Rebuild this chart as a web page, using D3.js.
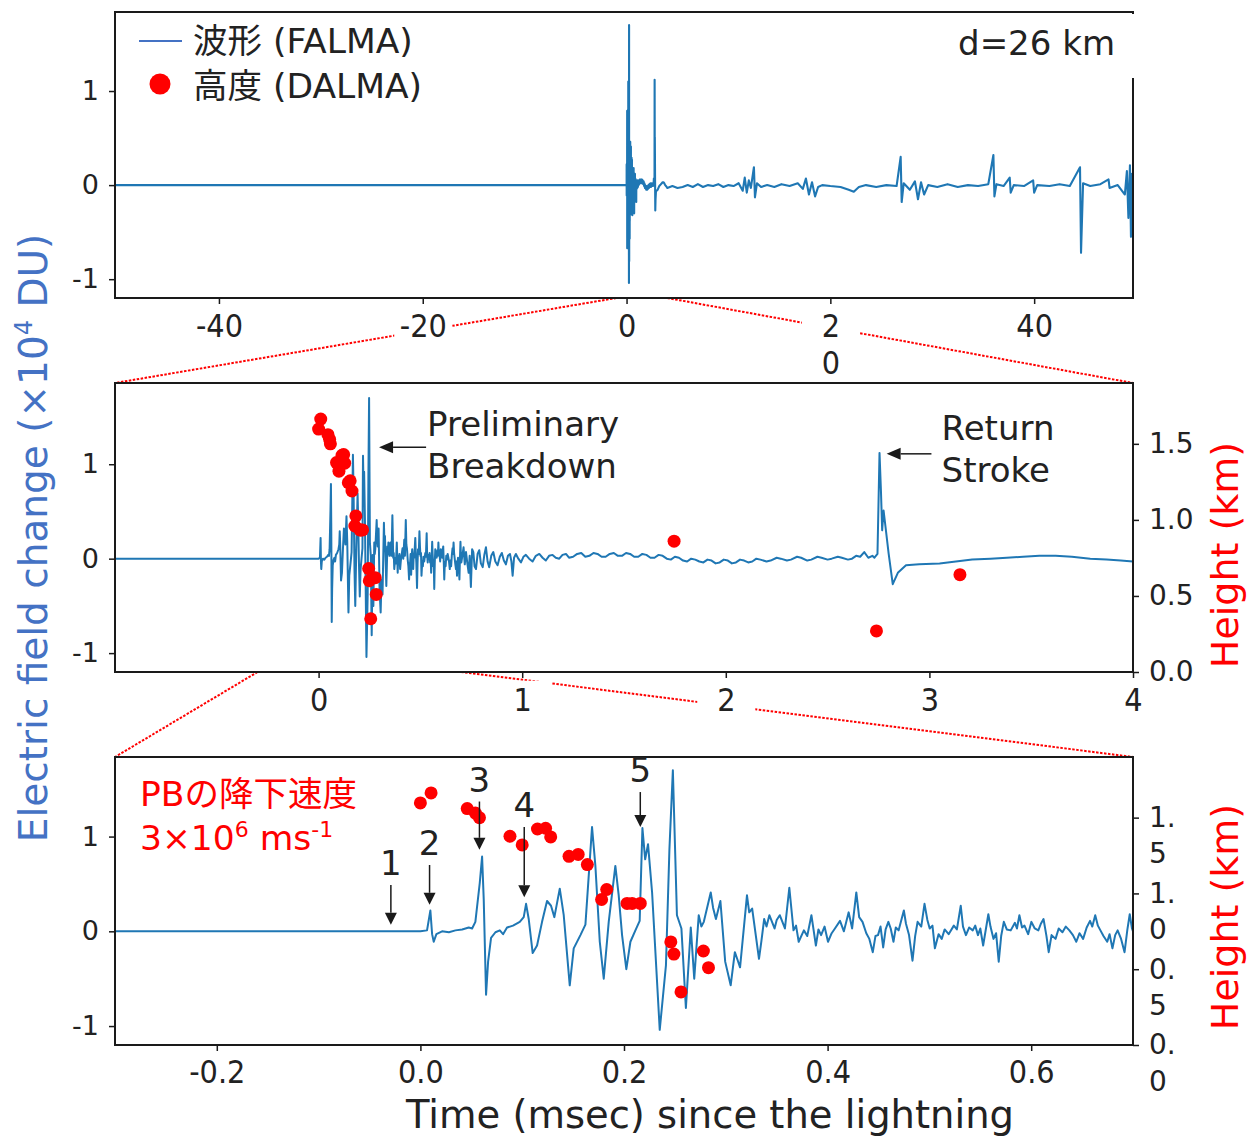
<!DOCTYPE html>
<html lang="ja">
<head>
<meta charset="utf-8">
<title>Electric field change and DALMA source heights</title>
<script src="https://cdn.jsdelivr.net/npm/d3@7/dist/d3.min.js"></script>
<style>
  html, body { margin: 0; padding: 0; background: #fff; }
  svg { display: block; }
</style>
</head>
<body>
<svg id="chart" width="1250" height="1138"></svg>
<script>
// FALMA waveform: [time (ms), field change (x1e4 DU)]
const fieldTrace = [
  [-50.2, 0.00], [-40, 0.00], [-30, 0.00], [-20, 0.00], [-10, 0.00], [-0.3, 0.00],
  [-0.200, 0.00], [-0.100, 0.00], [-0.030, 0.00], [0.000, 0.00], [0.0065, 0.01],
  [0.0098, 0.22], [0.0115, -0.03], [0.0131, -0.11], [0.0157, -0.03], [0.0213, 0.00],
  [0.0280, -0.01], [0.0344, 0.01], [0.0410, 0.02], [0.0475, 0.04], [0.0508, 0.03],
  [0.0540, 0.10], [0.0583, 0.51], [0.0606, 0.79], [0.0622, 0.34], [0.0645, -0.67],
  [0.0665, -0.32], [0.0694, -0.07], [0.0737, -0.01], [0.0780, 0.01], [0.0812, -0.03],
  [0.0851, 0.04], [0.0910, 0.06], [0.0976, 0.10], [0.1015, 0.15], [0.1038, 0.29],
  [0.1064, 0.13], [0.1103, -0.23], [0.1146, -0.15], [0.1195, 0.10], [0.1244, 0.32],
  [0.1283, 0.27], [0.1316, 0.15], [0.1369, 0.45], [0.1408, 0.17], [0.1467, -0.57],
  [0.1506, -0.18], [0.1572, -0.04], [0.1621, 0.07], [0.1686, 1.10], [0.1719, 0.69],
  [0.1762, -0.11], [0.1801, -0.50], [0.1850, 0.10], [0.1915, 0.69], [0.1948, 0.38],
  [0.1981, -0.04], [0.2023, -0.40], [0.2063, -0.11], [0.2112, 0.01], [0.2154, 0.11],
  [0.2181, 1.09], [0.2208, 0.76], [0.2236, 0.92], [0.2276, 0.41], [0.2351, -1.04],
  [0.2412, -0.36], [0.2446, 0.86], [0.2480, 1.70], [0.2520, 0.17], [0.2564, 0.03],
  [0.2608, -0.81], [0.2656, 0.04], [0.2690, -0.50], [0.2734, 0.17], [0.2760, 0.05],
  [0.2784, 0.10], [0.2852, 0.41], [0.2875, 0.25], [0.2903, 0.13], [0.2947, 0.32],
  [0.2994, -0.32], [0.3048, -0.57], [0.3089, -0.22], [0.3115, -0.30], [0.3140, -0.38],
  [0.3208, 0.38], [0.3230, 0.20], [0.3259, 0.24], [0.3326, -0.29], [0.3350, -0.10],
  [0.3377, 0.13], [0.3400, 0.05], [0.3428, 0.17], [0.3479, 0.03], [0.3500, 0.12],
  [0.3530, 0.17], [0.3581, 0.03], [0.3624, 0.46], [0.3665, 0.01], [0.3690, 0.06],
  [0.3716, -0.11], [0.3767, 0.01], [0.3800, -0.05], [0.3841, 0.17], [0.3885, -0.15],
  [0.3910, 0.02], [0.3936, -0.04], [0.3970, 0.05], [0.4004, -0.11], [0.4040, -0.02],
  [0.4072, 0.03], [0.4122, 0.11], [0.4160, 0.00], [0.4207, 0.20], [0.4241, 0.03],
  [0.4282, 0.41], [0.4310, 0.15], [0.4343, 0.10], [0.4380, -0.02], [0.4410, -0.08],
  [0.4444, -0.22], [0.4470, -0.05], [0.4495, -0.04], [0.4520, 0.05], [0.4546, -0.17],
  [0.4570, 0.02], [0.4597, 0.10], [0.4620, 0.03], [0.4647, -0.11], [0.4670, 0.04],
  [0.4698, 0.01], [0.4749, 0.22], [0.4770, 0.08], [0.4800, -0.04], [0.4834, -0.31],
  [0.4860, -0.05], [0.4884, 0.10], [0.4920, 0.05], [0.4952, 0.29], [0.4980, 0.12],
  [0.5003, 0.03], [0.5030, 0.06], [0.5054, -0.18], [0.5090, -0.03], [0.5121, -0.08],
  [0.5150, 0.02], [0.5189, -0.03], [0.5240, 0.06], [0.5270, 0.02], [0.5308, 0.27],
  [0.5330, 0.05], [0.5359, -0.04], [0.5390, 0.04], [0.5426, 0.01], [0.5450, 0.06],
  [0.5477, -0.04], [0.5500, 0.03], [0.5528, -0.15], [0.5579, 0.18], [0.5600, 0.05],
  [0.5630, -0.08], [0.5655, -0.02], [0.5681, -0.32], [0.5705, -0.05], [0.5731, 0.10],
  [0.5760, 0.02], [0.5799, 0.01], [0.5840, 0.09], [0.5860, 0.03], [0.5884, 0.17],
  [0.5910, 0.04], [0.5934, 0.06], [0.5970, -0.03], [0.6002, 0.10], [0.6035, 0.03],
  [0.6070, 0.01], [0.6095, 0.08], [0.6121, 0.13], [0.6150, -0.05], [0.6172, -0.22],
  [0.6200, -0.04], [0.6239, -0.08], [0.6270, 0.03], [0.6307, -0.01], [0.6340, 0.05],
  [0.6375, 0.01], [0.6410, -0.04], [0.6443, -0.11], [0.6475, -0.02], [0.6510, -0.08],
  [0.6545, 0.04], [0.6578, 0.11], [0.6600, 0.05], [0.6629, 0.17], [0.6655, 0.06],
  [0.6680, 0.01], [0.6710, -0.05], [0.6747, -0.11], [0.6770, -0.03], [0.6798, -0.18],
  [0.6825, -0.04], [0.6849, 0.01], [0.6883, -0.08], [0.6917, -0.22], [0.6945, 0.02],
  [0.6968, 0.18], [0.6990, 0.03], [0.7012, -0.04],
  [0.712, 0.12], [0.718, -0.06],
  [0.724, 0.07], [0.730, -0.04], [0.737, -0.15], [0.742, 0.03], [0.748, -0.30], [0.754, 0.10],
  [0.760, 0.07], [0.766, -0.08], [0.773, -0.11], [0.781, 0.05], [0.789, 0.09], [0.797, -0.05],
  [0.806, -0.09], [0.814, 0.04], [0.822, 0.12], [0.830, -0.03], [0.838, -0.09], [0.848, 0.03],
  [0.858, 0.07], [0.868, -0.03], [0.879, -0.07], [0.890, 0.02], [0.900, 0.06], [0.910, -0.02],
  [0.920, -0.06], [0.930, 0.03], [0.940, 0.05], [0.947, -0.03], [0.953, -0.18], [0.960, 0.01],
  [0.969, 0.05], [0.981, 0.00], [0.994, -0.04], [1.006, 0.02], [1.018, 0.04], [1.034, 0.00],
  [1.051, -0.03], [1.067, 0.03], [1.084, 0.05], [1.100, 0.01], [1.116, -0.02], [1.132, 0.03],
  [1.149, 0.04], [1.165, 0.01], [1.182, 0.00], [1.198, 0.04], [1.215, 0.05], [1.23, 0.01],
  [1.25, 0.02], [1.27, 0.05], [1.29, 0.06], [1.31, 0.02], [1.33, 0.03], [1.35, 0.06],
  [1.37, 0.05], [1.39, 0.02], [1.41, 0.02], [1.43, 0.05], [1.45, 0.06], [1.47, 0.03],
  [1.49, 0.03], [1.51, 0.06], [1.53, 0.05], [1.55, 0.02], [1.57, 0.02], [1.59, 0.05],
  [1.61, 0.04], [1.63, 0.01], [1.65, 0.01], [1.67, 0.04], [1.69, 0.03], [1.71, 0.00],
  [1.73, -0.01], [1.75, 0.02], [1.77, 0.01], [1.79, -0.02], [1.81, -0.03], [1.83, 0.00],
  [1.85, -0.01], [1.87, -0.03], [1.89, -0.04], [1.91, -0.01], [1.93, -0.02], [1.95, -0.05],
  [1.97, -0.04], [1.99, -0.01], [2.01, -0.02], [2.03, -0.05], [2.05, -0.04], [2.07, -0.01],
  [2.09, -0.02], [2.11, -0.04], [2.13, -0.03], [2.15, 0.00], [2.17, -0.01], [2.20, -0.03],
  [2.22, -0.02], [2.25, 0.01], [2.27, 0.00], [2.30, -0.02], [2.32, -0.01], [2.35, 0.02],
  [2.37, 0.01], [2.40, -0.02], [2.42, -0.01], [2.45, 0.02], [2.47, 0.01], [2.50, -0.01],
  [2.52, 0.00], [2.55, 0.02], [2.57, 0.01], [2.60, -0.01], [2.62, 0.00], [2.64, 0.03],
  [2.66, 0.02], [2.68, 0.07], [2.70, 0.01], [2.72, 0.03], [2.73, 0.01],
  [2.745, 0.05], [2.755, 1.12], [2.762, 0.72], [2.768, 0.30], [2.775, 0.51], [2.80, 0.05],
  [2.82, -0.27], [2.845, -0.15], [2.885, -0.07], [2.95, -0.06], [3.05, -0.05], [3.13, -0.03],
  [3.21, -0.01], [3.30, 0.00], [3.38, 0.01], [3.46, 0.02], [3.54, 0.03], [3.62, 0.03],
  [3.70, 0.02], [3.79, 0.00], [3.87, -0.01], [3.94, -0.02], [4.00, -0.03],
  [4.5, -0.01], [5.0, -0.03], [5.5, -0.02], [6.0, 0.00], [6.5, -0.02], [7.0, 0.01],
  [7.5, -0.02], [8.0, 0.00], [8.5, -0.01], [9.0, 0.01], [9.5, -0.02], [10.0, 0.00],
  [10.5, -0.01], [11.0, 0.02], [11.4, -0.06], [11.6, 0.08], [11.8, -0.08], [12.0, 0.05],
  [12.2, -0.03], [12.5, 0.19], [12.6, -0.13], [12.8, 0.02], [13.2, -0.02], [13.8, 0.00],
  [14.5, -0.02], [15.2, 0.01], [16.0, -0.01], [16.8, 0.02], [17.3, -0.04], [17.6, 0.07],
  [17.9, -0.10], [18.2, 0.03], [18.5, -0.12], [18.8, -0.02], [19.2, 0.00], [20.0, -0.01],
  [21.0, -0.02], [21.8, -0.05], [22.3, -0.07], [22.8, -0.02], [23.5, 0.00], [24.5, -0.02],
  [25.5, 0.00], [26.5, -0.01], [26.9, 0.30], [27.0, -0.18], [27.2, 0.02], [27.8, -0.05],
  [28.3, 0.04], [28.6, -0.15], [28.9, 0.03], [29.2, -0.10], [29.6, 0.00], [30.5, -0.02],
  [31.5, 0.01], [32.5, -0.02], [33.5, 0.00], [34.5, -0.01], [35.5, 0.01], [36.0, 0.32],
  [36.1, -0.12], [36.3, 0.01], [37.0, -0.01], [37.6, 0.08], [37.7, -0.08], [38.0, 0.00],
  [39.0, -0.01], [39.9, 0.05], [40.0, -0.08], [40.3, 0.00], [41.5, -0.01], [42.5, 0.01],
  [43.5, -0.01], [44.5, 0.19], [44.6, -0.72], [44.8, 0.02], [45.5, -0.01], [46.5, 0.01],
  [47.3, 0.06], [47.4, -0.03], [48.2, 0.00], [48.9, -0.10], [49.1, 0.15], [49.25, -0.35],
  [49.4, 0.21], [49.5, -0.55], [49.6, 0.12], [49.7, -0.20]
];

// DALMA radiation sources: time (ms) and height (km)
const dalmaTimes = [0.000, 0.0105, 0.046, 0.054, 0.058, 0.088, 0.100, 0.115, 0.123, 0.128,
  0.146, 0.155, 0.164, 0.178, 0.183, 0.203, 0.208, 0.216, 0.246, 0.249, 0.256, 0.278, 0.283,
  1.746, 2.740, 3.150];
const dalmaHeights = [1.597, 1.663, 1.560, 1.530, 1.500, 1.377, 1.320, 1.425, 1.430, 1.373,
  1.245, 1.257, 1.190, 0.960, 1.026, 0.934, 0.934, 0.934, 0.680, 0.600, 0.350, 0.620, 0.510,
  0.860, 0.270, 0.640];

// Axis ticks and their printed labels
const topXTicks = [-40, -20, 0, 20, 40];
const topXLabels = ["-40", "-20", "0", "2\n0", "40"];
const fieldTicks = [-1, 0, 1];
const fieldLabels = ["-1", "0", "1"];
const midXTicks = [0, 1, 2, 3, 4];
const midXLabels = ["0", "1", "2", "3", "4"];
const botXTicks = [-0.2, 0, 0.2, 0.4, 0.6];
const botXLabels = ["-0.2", "0.0", "0.2", "0.4", "0.6"];
const heightTicks = [0, 0.5, 1.0, 1.5];
const midHeightLabels = ["0.0", "0.5", "1.0", "1.5"];
const botHeightLabels = ["0.\n0", "0.\n5", "1.\n0", "1.\n5"];

// Preliminary-breakdown pulses marked in the lower panel (time in ms, arrow span in field units)
const stepLabels = ["1", "2", "3", "4", "5"];
const stepTimes = [-0.029, 0.009, 0.058, 0.102, 0.216];
const stepTips = [0.07, 0.28, 0.86, 0.36, 1.10];
const stepTails = [0.49, 0.70, 1.37, 1.10, 1.47];

// ---------------------------------------------------------------
const svg = d3.select("#chart");
const X0 = 115, X1 = 1133;
const LATIN = "'DejaVu Sans', 'Noto Sans CJK JP', sans-serif";
const NARROW = "'DejaVu Sans Condensed', 'DejaVu Sans', sans-serif";
const WAVE = "#1f77b4", DOT = "#ff0000", INK = "#1a1a1a", TITLE_BLUE = "#4472c4";

const panelTop = { id: "top", xDomain: [-50.2, 49.7], yDomain: [-1.2, 1.84], top: 12, bottom: 298, lw: 2.1 };
const panelMid = { id: "mid", xDomain: [-1, 4], yDomain: [-1.2, 1.86], hDomain: [0, 1.9], top: 383, bottom: 672, lw: 2 };
const panelBot = { id: "bot", xDomain: [-0.3, 0.7], yDomain: [-1.2, 1.84], hDomain: [0, 1.9], top: 757, bottom: 1045, lw: 2 };
const panels = [panelTop, panelMid, panelBot];

panels.forEach(p => {
  p.x = d3.scaleLinear().domain(p.xDomain).range([X0, X1]);
  p.y = d3.scaleLinear().domain(p.yDomain).range([p.bottom, p.top]);
  if (p.hDomain) p.h = d3.scaleLinear().domain(p.hDomain).range([p.bottom, p.top]);
});

const sources = dalmaTimes.map((t, i) => [t, dalmaHeights[i]]);

// Zoom connectors between panels (drawn first so tick labels sit on top)
const connectors = [
  [panelTop.x(panelMid.xDomain[0]), panelTop.bottom, X0, panelMid.top],
  [panelTop.x(panelMid.xDomain[1]), panelTop.bottom, X1, panelMid.top],
  [panelMid.x(panelBot.xDomain[0]), panelMid.bottom, X0, panelBot.top],
  [panelMid.x(panelBot.xDomain[1]), panelMid.bottom, X1, panelBot.top]
];
svg.append("g").attr("class", "connectors")
  .selectAll("line").data(connectors).join("line")
  .attr("x1", d => d[0]).attr("y1", d => d[1])
  .attr("x2", d => d[2]).attr("y2", d => d[3])
  .attr("stroke", DOT).attr("stroke-width", 2)
  .attr("stroke-dasharray", "2.5,1.5");

function splitLines(sel, lineHeight) {
  sel.each(function () {
    const t = d3.select(this);
    const parts = t.text().split("\n");
    if (parts.length < 2) return;
    const x = t.attr("x") || 0;
    t.text(null);
    parts.forEach((s, i) => {
      t.append("tspan").attr("x", x).attr("dy", i === 0 ? null : lineHeight).text(s);
    });
  });
}

function styleAxis(g, size, family) {
  g.attr("font-family", null).attr("font-size", null);
  g.select(".domain").remove();
  g.selectAll(".tick line").attr("stroke", INK).attr("stroke-width", 1.5);
  g.selectAll(".tick text").attr("fill", "#222")
    .style("font-size", size + "px").style("font-family", family);
}

// Blank the area behind each x tick label so connector lines are interrupted there
function maskLabels(g) {
  g.selectAll(".tick").each(function () {
    const tick = d3.select(this);
    const text = tick.select("text");
    const first = text.select("tspan").empty() ? text.node() : text.select("tspan").node();
    const b = first.getBBox();
    tick.insert("rect", "text")
      .attr("x", b.x + b.width / 2 - 29).attr("y", b.y)
      .attr("width", 58).attr("height", b.height)
      .attr("fill", "#fff");
  });
}

panels.forEach(p => {
  const clipId = "clip-" + p.id;
  svg.append("clipPath").attr("id", clipId)
    .append("rect").attr("x", X0).attr("y", p.top)
    .attr("width", X1 - X0).attr("height", p.bottom - p.top);

  const body = svg.append("g").attr("clip-path", `url(#${clipId})`);
  const line = d3.line().x(d => p.x(d[0])).y(d => p.y(d[1]));
  body.append("path").datum(fieldTrace)
    .attr("d", line).attr("fill", "none")
    .attr("stroke", WAVE).attr("stroke-width", p.lw)
    .attr("stroke-linejoin", "round");

  if (p.h) {
    body.append("g").selectAll("circle").data(sources).join("circle")
      .attr("cx", d => p.x(d[0])).attr("cy", d => p.h(d[1]))
      .attr("r", 6.5).attr("fill", DOT);
  }

  svg.append("rect").attr("x", X0).attr("y", p.top)
    .attr("width", X1 - X0).attr("height", p.bottom - p.top)
    .attr("fill", "none").attr("stroke", INK).attr("stroke-width", 2);

  // left field axis
  const gl = svg.append("g").attr("transform", `translate(${X0},0)`)
    .call(d3.axisLeft(p.y).tickValues(fieldTicks).tickSize(6).tickPadding(10)
      .tickFormat((d, i) => fieldLabels[i]));
  styleAxis(gl, 27, LATIN);
});

// bottom time axes
const gxTop = svg.append("g").attr("transform", `translate(0,${panelTop.bottom})`)
  .call(d3.axisBottom(panelTop.x).tickValues(topXTicks).tickSize(6).tickPadding(10)
    .tickFormat((d, i) => topXLabels[i]));
styleAxis(gxTop, 32, NARROW);
splitLines(gxTop.selectAll(".tick text"), "1.15em");
maskLabels(gxTop);

const gxMid = svg.append("g").attr("transform", `translate(0,${panelMid.bottom})`)
  .call(d3.axisBottom(panelMid.x).tickValues(midXTicks).tickSize(6).tickPadding(10)
    .tickFormat((d, i) => midXLabels[i]));
styleAxis(gxMid, 32, NARROW);
maskLabels(gxMid);

const gxBot = svg.append("g").attr("transform", `translate(0,${panelBot.bottom})`)
  .call(d3.axisBottom(panelBot.x).tickValues(botXTicks).tickSize(6).tickPadding(9)
    .tickFormat((d, i) => botXLabels[i]));
styleAxis(gxBot, 32, NARROW);

// right height axes
const ghMid = svg.append("g").attr("transform", `translate(${X1},0)`)
  .call(d3.axisRight(panelMid.h).tickValues(heightTicks).tickSize(6).tickPadding(10)
    .tickFormat((d, i) => midHeightLabels[i]));
styleAxis(ghMid, 28, LATIN);

const ghBot = svg.append("g").attr("transform", `translate(${X1},0)`)
  .call(d3.axisRight(panelBot.h).tickValues(heightTicks).tickSize(6).tickPadding(10)
    .tickFormat((d, i) => botHeightLabels[i]));
styleAxis(ghBot, 28, LATIN);
splitLines(ghBot.selectAll(".tick text"), "1.3em");

// ---- top panel: legend and distance note ----
const legend = svg.append("g").style("font-family", LATIN).style("font-size", "34.5px").attr("fill", "#222");
legend.append("line").attr("x1", 139).attr("x2", 182).attr("y1", 41).attr("y2", 41)
  .attr("stroke", TITLE_BLUE).attr("stroke-width", 2);
legend.append("text").attr("x", 193).attr("y", 53).text("波形 (FALMA)");
legend.append("circle").attr("cx", 160).attr("cy", 84).attr("r", 10.5).attr("fill", DOT);
legend.append("text").attr("x", 193).attr("y", 98).text("高度 (DALMA)");

svg.append("rect").attr("x", 945).attr("y", 14).attr("width", 195).attr("height", 64).attr("fill", "#fff");
svg.append("text").attr("x", 1115).attr("y", 55).attr("text-anchor", "end")
  .style("font-family", LATIN).style("font-size", "34px").attr("fill", "#222").text("d=26 km");

// ---- middle panel annotations ----
function arrow(g, x1, y1, x2, y2, head, half) {
  const a = Math.atan2(y2 - y1, x2 - x1);
  const bx = x2 - head * Math.cos(a), by = y2 - head * Math.sin(a);
  g.append("line").attr("x1", x1).attr("y1", y1).attr("x2", bx).attr("y2", by)
    .attr("stroke", INK).attr("stroke-width", 1.5);
  const nx = -Math.sin(a) * half, ny = Math.cos(a) * half;
  g.append("path")
    .attr("d", `M${x2},${y2}L${bx + nx},${by + ny}L${bx - nx},${by - ny}Z`)
    .attr("fill", INK);
}

const ann = svg.append("g").style("font-family", LATIN).style("font-size", "34px").attr("fill", "#222");
arrow(ann, panelMid.x(0.528), panelMid.y(1.18), panelMid.x(0.297), panelMid.y(1.18), 14, 6);
ann.append("text").attr("x", panelMid.x(0.533)).attr("y", 436).text("Preliminary");
ann.append("text").attr("x", panelMid.x(0.533)).attr("y", 478).text("Breakdown");
arrow(ann, panelMid.x(3.01), panelMid.y(1.11), panelMid.x(2.79), panelMid.y(1.11), 14, 6);
ann.append("text").attr("x", panelMid.x(3.06)).attr("y", 440).text("Return");
ann.append("text").attr("x", panelMid.x(3.06)).attr("y", 482).text("Stroke");

// ---- bottom panel annotations ----
const steps = svg.append("g").style("font-family", LATIN).style("font-size", "34px").attr("fill", "#222");
stepLabels.forEach((lab, i) => {
  const x = panelBot.x(stepTimes[i]);
  arrow(steps, x, panelBot.y(stepTails[i]), x, panelBot.y(stepTips[i]), 12, 6);
  steps.append("text").attr("x", x).attr("y", panelBot.y(stepTails[i]) - 10)
    .attr("text-anchor", "middle").text(lab);
});

const speed = svg.append("g").style("font-family", LATIN).style("font-size", "34.5px").attr("fill", DOT);
speed.append("text").attr("x", 140).attr("y", 806).text("PBの降下速度");
const sp = speed.append("text").attr("x", 140).attr("y", 850);
sp.append("tspan").text("3×10");
sp.append("tspan").attr("dy", -13).style("font-size", "22px").text("6");
sp.append("tspan").attr("dy", 13).text(" ms");
sp.append("tspan").attr("dy", -13).style("font-size", "22px").text("-1");

// ---- axis titles ----
const yTitle = svg.append("text")
  .attr("transform", "translate(47,538) rotate(-90)")
  .attr("text-anchor", "middle")
  .style("font-family", LATIN).style("font-size", "39px").attr("fill", TITLE_BLUE);
yTitle.append("tspan").text("Electric field change (×10");
yTitle.append("tspan").attr("dy", -15).style("font-size", "24px").text("4");
yTitle.append("tspan").attr("dy", 15).text(" DU)");

[[panelMid, 555], [panelBot, 917]].forEach(([p, cy]) => {
  svg.append("text")
    .attr("transform", `translate(1238,${cy}) rotate(-90)`)
    .attr("text-anchor", "middle")
    .style("font-family", LATIN).style("font-size", "38px").attr("fill", DOT)
    .text("Height (km)");
});

svg.append("text").attr("x", 710).attr("y", 1128).attr("text-anchor", "middle")
  .style("font-family", LATIN).style("font-size", "38.5px").attr("fill", "#222")
  .text("Time (msec) since the lightning");
</script>
</body>
</html>
